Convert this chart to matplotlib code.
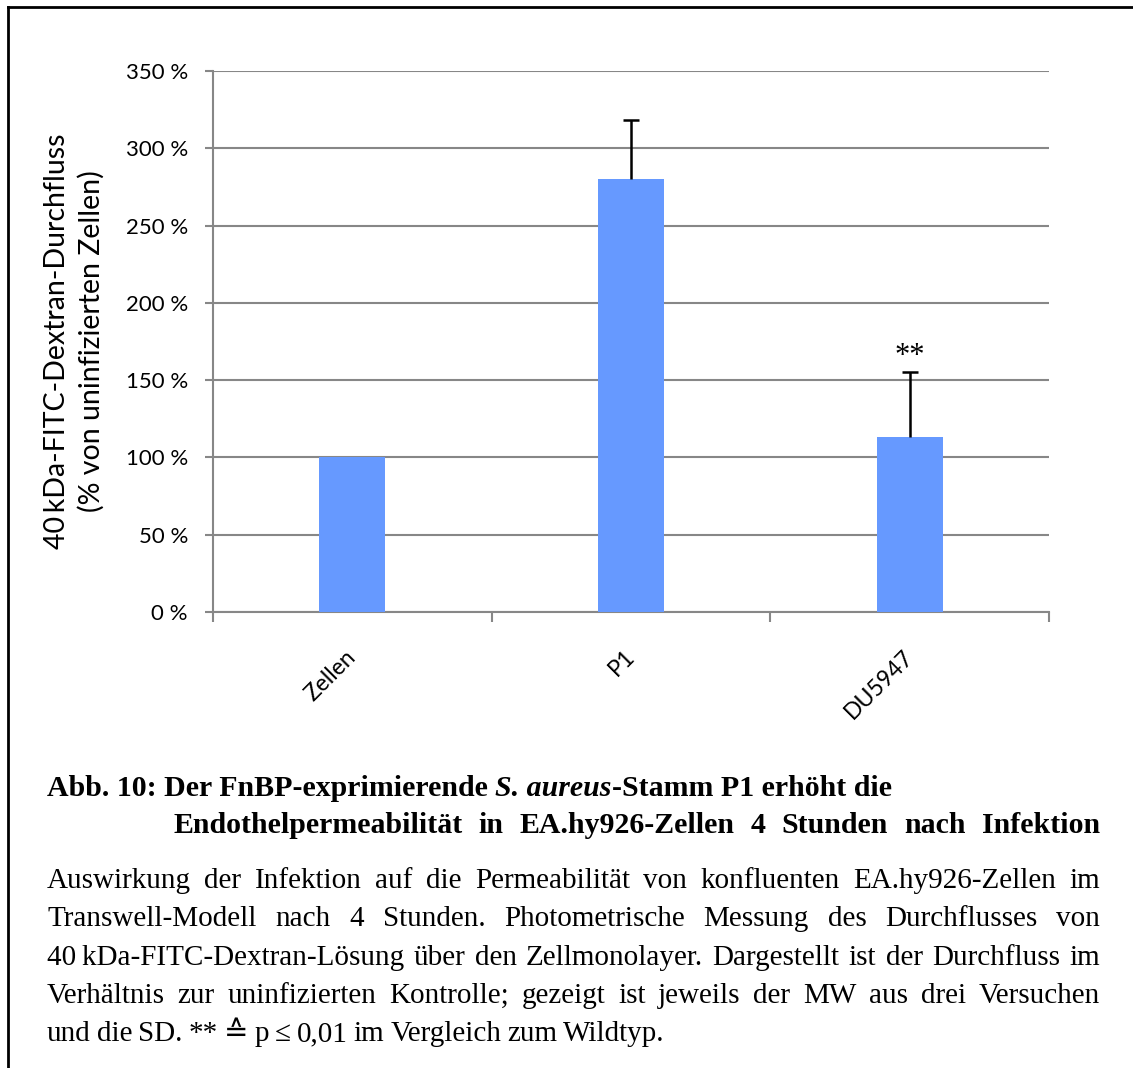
import matplotlib
matplotlib.use("Agg")
import matplotlib.pyplot as plt
from matplotlib.lines import Line2D
from matplotlib.ticker import FixedLocator, NullFormatter

W, H = 1133, 1068

# Daten
categories = ["Zellen", "P1", "DU5947"]
values = [100, 280, 113]
sd_up = [0, 38, 42]
significance = ["", "", "**"]
y_ticks = [0, 50, 100, 150, 200, 250, 300, 350]
y_tick_labels = ["0 %", "50 %", "100 %", "150 %", "200 %", "250 %", "300 %", "350 %"]

title_line1 = [("Abb. 10: Der FnBP-exprimierende ", "normal"),
               ("S. aureus", "italic"),
               ("-Stamm P1 erhöht die", "normal")]
title_line2 = "Endothelpermeabilität in EA.hy926-Zellen 4 Stunden nach Infektion"
body_lines = [
    "Auswirkung der Infektion auf die Permeabilität von konfluenten EA.hy926-Zellen im",
    "Transwell-Modell nach 4 Stunden. Photometrische Messung des Durchflusses von",
    "40\u2009kDa-FITC-Dextran-Lösung über den Zellmonolayer. Dargestellt ist der Durchfluss im",
    "Verhältnis zur uninfizierten Kontrolle; gezeigt ist jeweils der MW aus drei Versuchen",
    "und die SD. ** \u2259 p \u2264 0,01 im Vergleich zum Wildtyp.",
]

GRID = "#878787"
BAR = "#6699FF"
AXFONT = "Lato"
SERIF = ["Liberation Serif", "DejaVu Serif", "DejaVu Sans", "Noto Sans CJK SC"]
TITLESIZE = 21.5
BODYSIZE = 21

fig = plt.figure(figsize=(W / 100, H / 100), dpi=100)
fig.patch.set_facecolor("white")


def fx(px):
    return px / W


def fy(py):
    return 1 - py / H


ax = fig.add_axes([fx(213), fy(612), fx(1049) - fx(213), fy(71) - fy(612)])

x = [1, 2, 3]
ax.bar(x, values, width=0.237, color=BAR, zorder=3)
_, caps, _ = ax.errorbar(x[1:], values[1:], yerr=[[0, 0], sd_up[1:]], fmt="none",
                         ecolor="black", elinewidth=1.8, capsize=6, capthick=1.8, zorder=4)
caps[0].set_visible(False)  # nur nach oben
for xi, v, s, sig in zip(x, values, sd_up, significance):
    if sig:
        ax.annotate(sig, (xi, v + s), xytext=(0, 1), textcoords="offset points",
                    ha="center", va="bottom", fontsize=22, family=SERIF)

ax.set_xlim(0.5, 3.5)
ax.set_ylim(0, 350)
ax.set_yticks(y_ticks)
ax.set_yticklabels(y_tick_labels, fontsize=16, family=AXFONT)
ax.yaxis.grid(True, color=GRID, linewidth=1.5, zorder=0)
ax.set_axisbelow(True)

ax.set_xticks(x)
ax.set_xticklabels(categories, rotation=45, ha="right", va="center",
                   rotation_mode="anchor", fontsize=16.5, family=AXFONT)
ax.xaxis.set_minor_locator(FixedLocator([0.5, 1.5, 2.5, 3.5]))
ax.xaxis.set_minor_formatter(NullFormatter())
ax.tick_params(axis="x", which="major", length=0, pad=30)
ax.tick_params(axis="x", which="minor", length=7.5, width=1.5, color=GRID, direction="out")
ax.tick_params(axis="y", length=6, width=1.5, color=GRID, pad=12)

for side in ["top", "right"]:
    ax.spines[side].set_visible(False)
for side in ["left", "bottom"]:
    ax.spines[side].set_color(GRID)
    ax.spines[side].set_linewidth(1.5)

ax.set_ylabel("40\u2009kDa-FITC-Dextran-Durchfluss\n(% von uninfizierten Zellen)",
              fontsize=20.5, family=AXFONT, labelpad=15, linespacing=1.35)

# Rahmen
fig.add_artist(Line2D([fx(8), fx(8)], [fy(7), 0], color="black", linewidth=2))
fig.add_artist(Line2D([fx(8), 1], [fy(7), fy(7)], color="black", linewidth=2))

renderer = fig.canvas.get_renderer()


def text_width(t):
    return t.get_window_extent(renderer).width


def justify(line, x0, x1, yb, size, weight="normal", stretch=True, gap=6.0):
    words = line.split(" ")
    texts = [fig.text(0, fy(yb), w, fontsize=size, weight=weight, family=SERIF,
                      va="baseline") for w in words]
    widths = [text_width(t) for t in texts]
    if stretch:
        gap = (x1 - x0 - sum(widths)) / (len(words) - 1)
    xpos = x0
    for t, wd in zip(texts, widths):
        t.set_x(fx(xpos))
        xpos += wd + gap


# Titel
xpos = 47
for part, style in title_line1:
    t = fig.text(fx(xpos), fy(796), part, fontsize=TITLESIZE, weight="bold", style=style,
                 family=SERIF, va="baseline")
    xpos += text_width(t)
justify(title_line2, 173, 1100, 833, TITLESIZE, weight="bold")

# Blocksatz
baselines = [888, 926, 965, 1003, 1041]
for i, (line, yb) in enumerate(zip(body_lines, baselines)):
    justify(line, 47, 1100, yb, BODYSIZE, stretch=(i < len(body_lines) - 1))

fig.savefig("out.png", dpi=100)
